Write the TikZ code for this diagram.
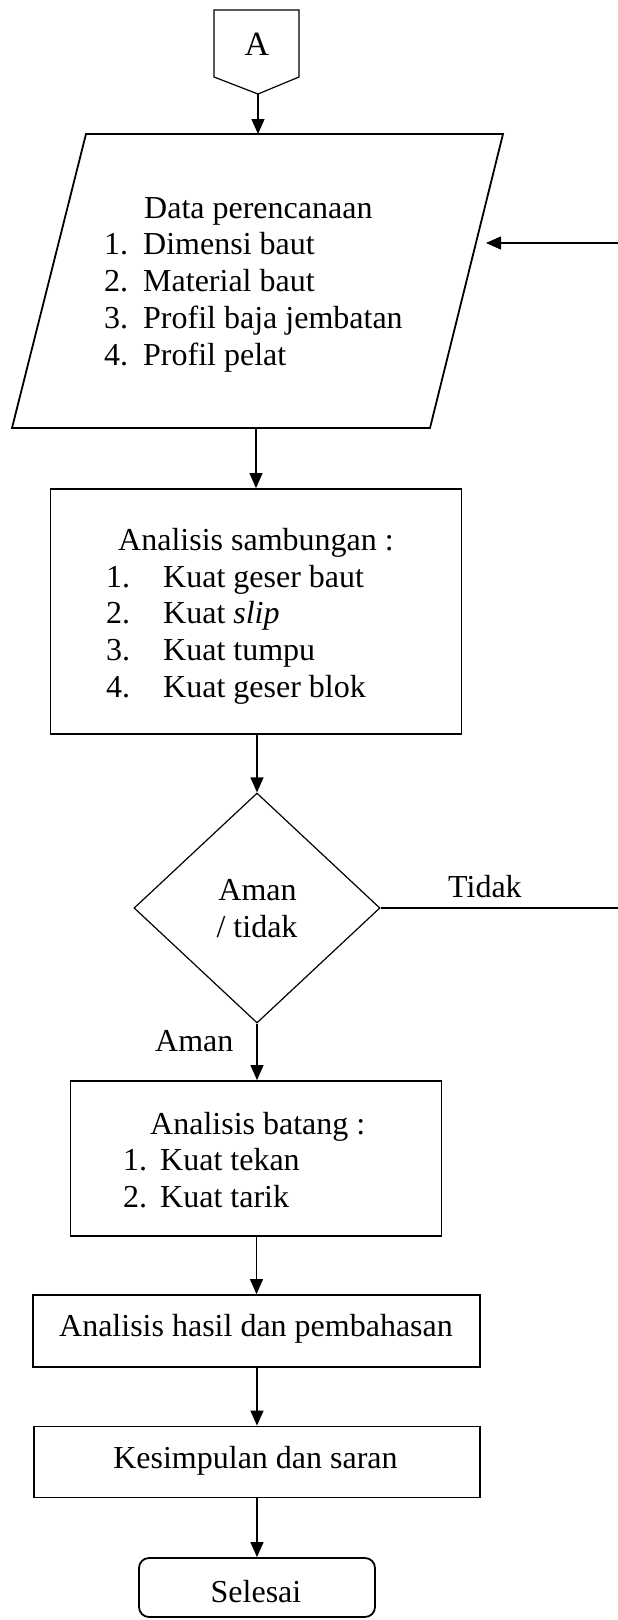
\documentclass[tikz,border=0pt]{standalone}
\usepackage{fontspec}
\setmainfont{Liberation Serif}
\usetikzlibrary{arrows.meta,shapes.geometric}
\begin{document}
\begin{tikzpicture}[x=1pt,y=-1pt,
  box/.style={draw, line width=1.8pt, inner sep=0pt},
  thinline/.style={line width=1.2pt},
  arr/.style={line width=1.2pt, -{Triangle[length=15pt,width=13pt]}},
  txt/.style={inner sep=0pt, anchor=base west, font=\fontsize{32}{37}\selectfont},
  ctxt/.style={inner sep=0pt, anchor=base, font=\fontsize{32}{37}\selectfont},
]
\useasboundingbox (0,0) rectangle (618,1620);

% off-page connector A
\draw[thinline, line join=miter] (214,10) -- (299,10) -- (299,77) -- (258,94) -- (214,77) -- cycle;
\node[ctxt, font=\fontsize{34}{40}\selectfont] (A) at (257,55) {A};
\coordinate (Abot) at (258,94);

% parallelogram
\draw[line width=1.8pt, line join=miter] (86,134) -- (503,134) -- (430,428) -- (12,428) -- cycle;
\coordinate (ptop) at (258,134);
\coordinate (pbot) at (256,428);
\coordinate (pin) at (486,243);
\coordinate (rtop) at (618,243);
\node[txt] (d0) at (144,218) {Data perencanaan};
\node[txt] (d1n) at (104,254) {1.};
\node[txt] (d1) at (143,254) {Dimensi baut};
\node[txt] (d2n) at (104,291) {2.};
\node[txt] (d2) at (143,291) {Material baut};
\node[txt] (d3n) at (104,328) {3.};
\node[txt] (d3) at (143,328) {Profil baja jembatan};
\node[txt] (d4n) at (104,365) {4.};
\node[txt] (d4) at (143,365) {Profil pelat};

% box 1
\node[box, minimum width=411pt, minimum height=245pt] (b1) at (256,611.5) {};
\node[txt] (s0) at (118,550) {Analisis sambungan :};
\node[txt] (s1n) at (106,587) {1.};
\node[txt] (s1) at (163,587) {Kuat geser baut};
\node[txt] (s2n) at (106,623) {2.};
\node[txt] (s2) at (163,623) {Kuat \textit{slip}};
\node[txt] (s3n) at (106,660) {3.};
\node[txt] (s3) at (163,660) {Kuat tumpu};
\node[txt] (s4n) at (106,697) {4.};
\node[txt] (s4) at (163,697) {Kuat geser blok};

% decision
\node[draw, diamond, line width=1.2pt, minimum width=246pt, minimum height=230pt, inner sep=0pt] (dia) at (257,908) {};
\node[ctxt] (q1) at (257.5,900) {Aman};
\node[ctxt] (q2) at (257,937) {/ tidak};
\coordinate (rmid) at (618,908);
\node[txt] (tidak) at (448,897) {Tidak};
\node[txt] (aman) at (155,1051) {Aman};

% box 2
\node[box, minimum width=371pt, minimum height=155pt] (b2) at (256,1158.5) {};
\node[txt] (t0) at (150,1134) {Analisis batang :};
\node[txt] (t1n) at (123,1170) {1.};
\node[txt] (t1) at (160,1170) {Kuat tekan};
\node[txt] (t2n) at (123,1207) {2.};
\node[txt] (t2) at (160,1207) {Kuat tarik};

% box 3
\node[box, minimum width=447pt, minimum height=72pt] (b3) at (256.5,1331) {};
\node[ctxt] (h) at (256,1336) {Analisis hasil dan pembahasan};

% box 4
\node[box, minimum width=446pt, minimum height=71pt] (b4) at (257,1462) {};
\node[ctxt] (k) at (255.5,1468) {Kesimpulan dan saran};

% terminator
\node[box, rounded corners=10pt, minimum width=236pt, minimum height=59pt] (sel) at (257,1587.5) {};
\node[ctxt] (selt) at (256,1602) {Selesai};

% connectors
\draw[arr] (Abot) -- (ptop);
\draw[arr] (rtop) -- (pin);
\draw[arr] (pbot) -- (pbot |- b1.north);
\draw[arr] (b1.south -| dia.north) -- (dia.north);
\draw[thinline] (dia.east) -- (rmid);
\draw[arr] (dia.south) -- (dia.south |- b2.north);
\draw[arr] (b2.south -| b3.north) -- (b3.north);
\draw[arr] (b3.south -| b4.north) -- (b4.north);
\draw[arr] (b4.south) -- (sel.north);
\end{tikzpicture}
\end{document}
